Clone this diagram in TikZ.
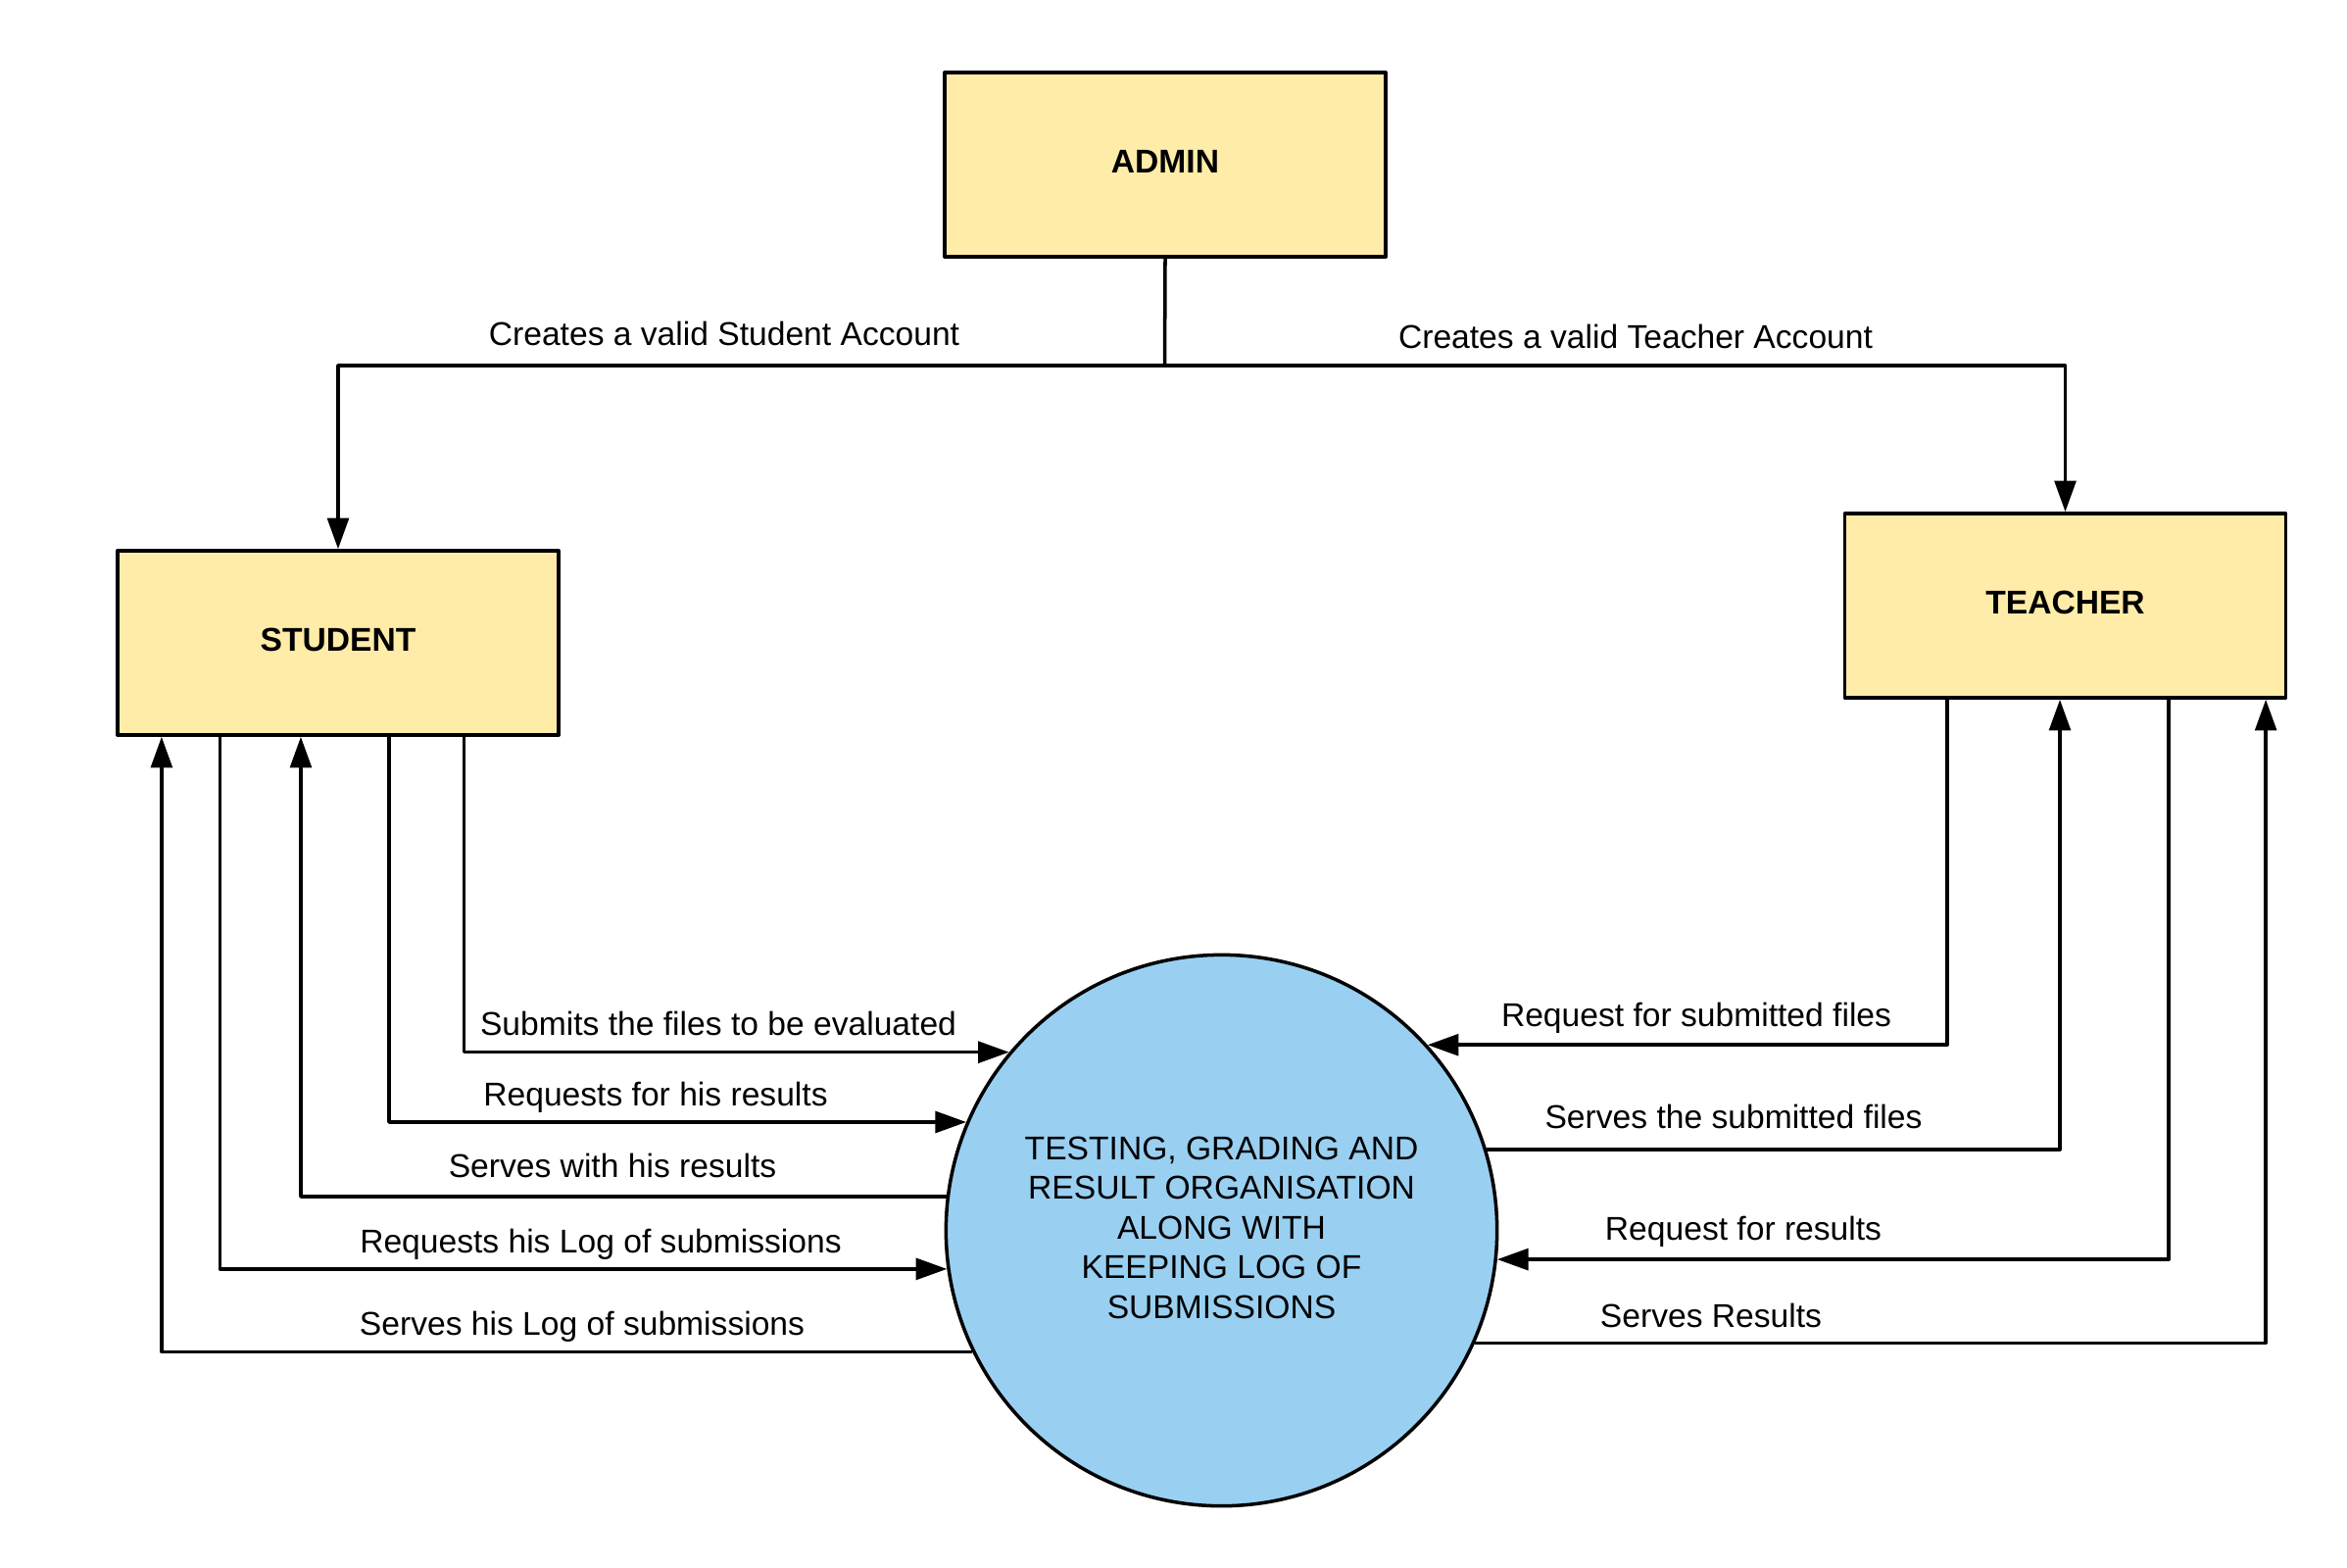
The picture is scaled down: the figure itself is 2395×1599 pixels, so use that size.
\documentclass[tikz,border=0pt]{standalone}
\usepackage{fontspec}
\setmainfont{Liberation Sans}
\usetikzlibrary{arrows.meta}
\definecolor{boxyellow}{RGB}{255,236,168}
\definecolor{procblue}{RGB}{153,208,242}
\begin{document}
\begin{tikzpicture}[x=0.01cm,y=-0.01cm,line join=round,
  font=\fontsize{9.56pt}{11.5pt}\selectfont,
  entity/.style={draw,line width=1pt,fill=boxyellow,minimum width=4.5cm,minimum height=1.88cm,text depth=1.7pt,font=\fontsize{9.56pt}{11.5pt}\selectfont\bfseries},
  process/.style={circle,draw,line width=1pt,fill=procblue,minimum size=5.62cm,inner sep=0pt,text depth=1.7pt,align=center},
  flow/.style={line width=1pt,-{Triangle[length=9pt,width=6.2pt]}},
  lbl/.style={anchor=base}]
\useasboundingbox (0,0) rectangle (2395,1599);
% entities and process
\node[entity] (admin) at (1189,168) {ADMIN};
\node[entity] (student) at (345,656) {STUDENT};
\node[entity] (teacher) at (2107.5,618) {TEACHER};
\node[process] (proc) at (1246.5,1255.5) {TESTING, GRADING AND\\RESULT ORGANISATION\\ALONG WITH\\KEEPING LOG OF\\SUBMISSIONS};
% admin creates accounts
\coordinate (split) at (1188.5,373);
\draw[line width=1pt] (admin.south) -- (split);
\draw[flow] (split) -| (student.north);
\draw[flow] (split) -| (teacher.north);
\node[lbl] at (739,352) {Creates a valid Student Account};
\node[lbl] at (1669,355) {Creates a valid Teacher Account};
% student flows
\draw[flow] ([xshift=1.285cm]student.south) |- (proc.140);
\draw[flow] ([xshift=0.52cm]student.south) |- (proc.157.1);
\draw[flow] (proc.173.2) -| ([xshift=-0.38cm]student.south);
\draw[flow] ([xshift=-1.205cm]student.south) |- (proc.188.8);
\draw[flow] (proc.206.5) -| ([xshift=-1.8cm]student.south);
\node[lbl] at (733,1056) {Submits the files to be evaluated};
\node[lbl] at (669,1128) {Requests for his results};
\node[lbl] at (625,1201) {Serves with his results};
\node[lbl] at (613,1278) {Requests his Log of submissions};
\node[lbl] at (594,1362) {Serves his Log of submissions};
% teacher flows
\draw[flow] ([xshift=-1.205cm]teacher.south) |- (proc.42.4);
\draw[flow] (proc.17.7) -| ([xshift=-0.055cm]teacher.south);
\draw[flow] ([xshift=1.055cm]teacher.south) |- (proc.-6);
\draw[flow] (proc.-24.8) -| ([xshift=2.045cm]teacher.south);
\node[lbl] at (1731,1047) {Request for submitted files};
\node[lbl] at (1769,1151) {Serves the submitted files};
\node[lbl] at (1779,1265) {Request for results};
\node[lbl] at (1746,1354) {Serves Results};
\end{tikzpicture}
\end{document}
